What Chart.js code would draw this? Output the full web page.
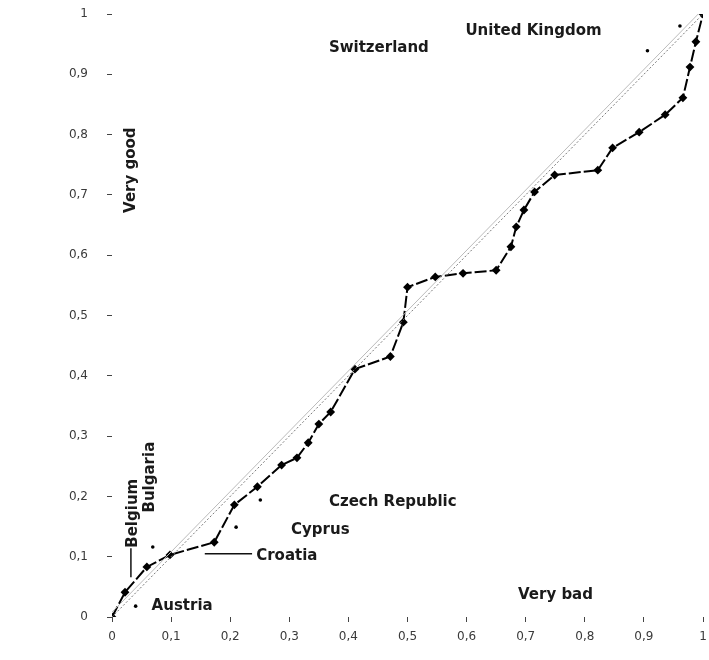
<!DOCTYPE html>
<html>
<head>
<meta charset="utf-8">
<script src="https://cdn.jsdelivr.net/npm/chart.js@4.4.1/dist/chart.umd.min.js"></script>
<style>
  html, body { margin: 0; padding: 0; background: #ffffff; }
  #wrap { width: 709px; height: 660px; }
</style>
</head>
<body>
<div id="wrap"><canvas id="c" width="709" height="660"></canvas></div>
<script>
// Cumulative shares: x = share of "very bad" answers, y = share of "very good" answers
const curveX = [0, 0.022, 0.059, 0.098, 0.173, 0.207, 0.246, 0.287, 0.313, 0.332, 0.350, 0.370,
                0.411, 0.471, 0.493, 0.500, 0.547, 0.594, 0.650, 0.675, 0.684, 0.697, 0.715,
                0.749, 0.822, 0.847, 0.892, 0.936, 0.966, 0.978, 0.988, 1];
const curveY = [0, 0.041, 0.083, 0.103, 0.124, 0.186, 0.216, 0.252, 0.264, 0.289, 0.320, 0.340,
                0.411, 0.432, 0.489, 0.547, 0.564, 0.570, 0.575, 0.614, 0.647, 0.675, 0.705,
                0.733, 0.741, 0.778, 0.804, 0.833, 0.861, 0.912, 0.954, 1];

// Single country points shown as small dots
const dotX = [0.040, 0.069, 0.210, 0.251, 0.906, 0.961];
const dotY = [0.018, 0.116, 0.149, 0.194, 0.939, 0.980];

// Equality lines
const diagX = [0, 1];
const diagY = [0, 1];
const diag2X = [0, 0.992];
const diag2Y = [0.008, 1];

// Axis tick values and their labels
const tickValues = [0, 0.1, 0.2, 0.3, 0.4, 0.5, 0.6, 0.7, 0.8, 0.9, 1];
const tickLabels = ['0', '0,1', '0,2', '0,3', '0,4', '0,5', '0,6', '0,7', '0,8', '0,9', '1'];

// Country and axis-end annotations, in data coordinates
const notes = [
  { text: 'Switzerland',    x: 0.367, y: 0.944, rot: false },
  { text: 'United Kingdom', x: 0.598, y: 0.972, rot: false },
  { text: 'Czech Republic', x: 0.367, y: 0.191, rot: false },
  { text: 'Cyprus',         x: 0.303, y: 0.144, rot: false },
  { text: 'Croatia',        x: 0.244, y: 0.101, rot: false },
  { text: 'Austria',        x: 0.067, y: 0.018, rot: false },
  { text: 'Very bad',       x: 0.687, y: 0.036, rot: false },
  { text: 'Belgium',        x: 0.035, y: 0.172, rot: true },
  { text: 'Bulgaria',       x: 0.064, y: 0.232, rot: true },
  { text: 'Very good',      x: 0.033, y: 0.741, rot: true }
];
// Leader lines for some labels
const leaders = [
  { x1: 0.157, y1: 0.105, x2: 0.237, y2: 0.105 },
  { x1: 0.032, y1: 0.114, x2: 0.032, y2: 0.066 }
];

const toPts = (xs, ys) => xs.map((v, i) => ({ x: v, y: ys[i] }));

const notesPlugin = {
  id: 'notes',
  afterDatasetsDraw(chart) {
    const ctx = chart.ctx;
    const sx = chart.scales.x, sy = chart.scales.y;
    ctx.save();
    ctx.strokeStyle = '#111';
    ctx.lineWidth = 1.5;
    leaders.forEach(l => {
      ctx.beginPath();
      ctx.moveTo(sx.getPixelForValue(l.x1), sy.getPixelForValue(l.y1));
      ctx.lineTo(sx.getPixelForValue(l.x2), sy.getPixelForValue(l.y2));
      ctx.stroke();
    });
    ctx.fillStyle = '#1a1a1a';
    ctx.font = 'bold 15px "DejaVu Sans"';
    ctx.textBaseline = 'middle';
    notes.forEach(n => {
      const px = sx.getPixelForValue(n.x), py = sy.getPixelForValue(n.y);
      if (n.rot) {
        ctx.save();
        ctx.translate(px, py);
        ctx.rotate(-Math.PI / 2);
        ctx.textAlign = 'center';
        ctx.fillText(n.text, 0, 0);
        ctx.restore();
      } else {
        ctx.textAlign = 'left';
        ctx.fillText(n.text, px, py);
      }
    });
    ctx.restore();
  }
};

const axisCommon = {
  type: 'linear',
  min: 0,
  max: 1,
  afterBuildTicks: s => { s.ticks = tickValues.map(v => ({ value: v })); },
  grid: { display: true, drawOnChartArea: false, drawTicks: true, tickLength: 5, color: '#444', lineWidth: 1 },
  border: { display: false },
  ticks: {
    autoSkip: false,
    maxRotation: 0,
    color: '#3a3a3a',
    font: { family: '"DejaVu Sans"', size: 12 },
    callback: v => tickLabels[tickValues.indexOf(Math.round(v * 10) / 10)]
  }
};

new Chart(document.getElementById('c'), {
  type: 'scatter',
  data: {
    datasets: [
      {
        label: 'Equality',
        data: toPts(diagX, diagY),
        showLine: true,
        borderColor: '#777',
        borderWidth: 1,
        borderDash: [2, 2],
        pointRadius: 0
      },
      {
        label: 'Equality 2',
        data: toPts(diag2X, diag2Y),
        showLine: true,
        borderColor: '#bbbbbb',
        borderWidth: 1,
        pointRadius: 0
      },
      {
        label: 'Curve',
        data: toPts(curveX, curveY),
        showLine: true,
        borderColor: '#000',
        borderWidth: 2,
        borderDash: [12, 3],
        pointStyle: 'rectRot',
        pointRadius: 3,
        pointBackgroundColor: '#000',
        pointBorderColor: '#000'
      },
      {
        label: 'Countries',
        data: toPts(dotX, dotY),
        showLine: false,
        pointStyle: 'circle',
        pointRadius: 1.8,
        pointBackgroundColor: '#000',
        pointBorderColor: '#000',
        pointBorderWidth: 0
      }
    ]
  },
  options: {
    responsive: false,
    animation: false,
    layout: { padding: { left: 0, right: 3, top: 14, bottom: 0 } },
    plugins: { legend: { display: false }, tooltip: { enabled: false }, title: { display: false } },
    scales: {
      x: Object.assign({}, axisCommon, {
        position: 'bottom',
        ticks: Object.assign({}, axisCommon.ticks, { padding: 8 }),
        afterFit: s => { s.height = 43; s.paddingLeft = 0; s.paddingRight = 0; }
      }),
      y: Object.assign({}, axisCommon, {
        position: 'left',
        ticks: Object.assign({}, axisCommon.ticks, { padding: 19 }),
        afterFit: s => { s.width = 112; s.paddingTop = 0; s.paddingBottom = 0; }
      })
    }
  },
  plugins: [notesPlugin]
});
</script>
</body>
</html>
